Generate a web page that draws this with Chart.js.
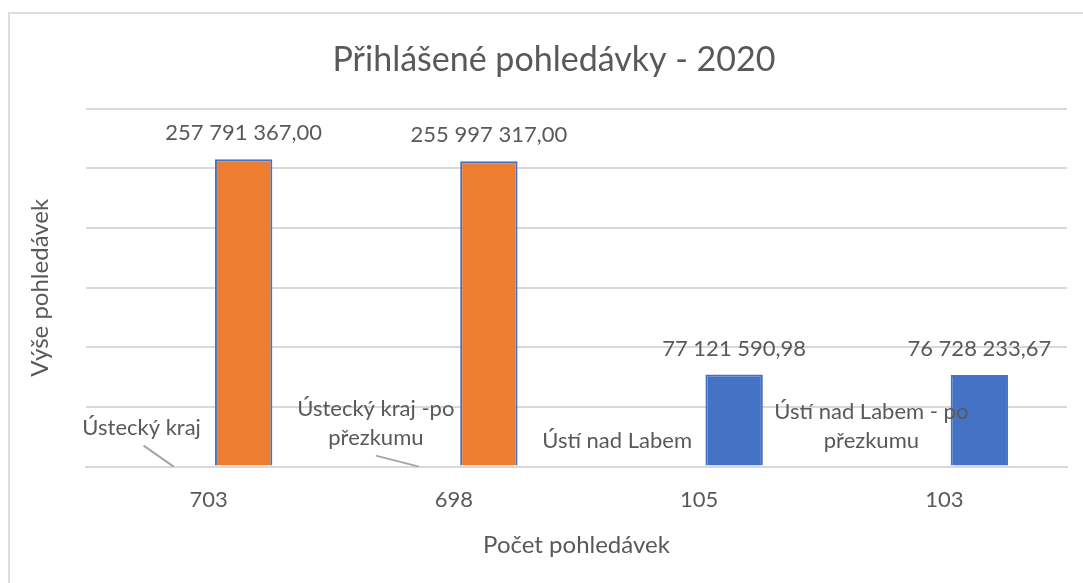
<!DOCTYPE html>
<html lang="cs">
<head>
<meta charset="utf-8">
<title>Přihlášené pohledávky - 2020</title>
<script src="https://cdn.jsdelivr.net/npm/chart.js@4/dist/chart.umd.min.js"></script>
<style>
    html, body {
        margin: 0;
        padding: 0;
        background: #ffffff;
        overflow: hidden;
    }

    /* the original chart is a bit wider than the visible window */
    .chart-wrap {
        position: relative;
        width: 1083px;
        height: 583px;
        overflow: hidden;
    }

    .chart-frame {
        position: absolute;
        left: 8px;
        top: 12px;
        width: 1200px;
        height: 700px;
        border: 2px solid #dedede;
        box-sizing: border-box;
    }

    #claims-chart {
        position: absolute;
        left: 0;
        top: 0;
    }
</style>
</head>
<body>
<div class="chart-wrap">
    <div class="chart-frame"></div>
    <canvas id="claims-chart" width="1100" height="583"></canvas>
</div>

<script>
'use strict';

// chart data

const claimCounts = ['703', '698', '105', '103']
const countValues = [703, 698, 105, 103]
const claimAmounts = [257791367.00, 255997317.00, 77121590.98, 76728233.67]
const regionNames = [
    ['Ústecký kraj'],
    ['Ústecký kraj -po', 'přezkumu'],
    ['Ústí nad Labem'],
    ['Ústí nad Labem - po', 'přezkumu']
]
const barColors = ['#ED7D31', '#ED7D31', '#4472C4', '#4472C4']

const chartTitle = 'Přihlášené pohledávky - 2020'
const xAxisTitle = 'Počet pohledávek'
const yAxisTitle = 'Výše pohledávek'

const textColor = '#595959'
const gridColor = '#d9d9d9'
const fontFamily = 'Lato, "Open Sans", sans-serif'

// where the region names sit, relative to the (invisible) count bar

const nameLabelLayout = [
    { dx: -32, dy: -39, leader: [-30, -21] },
    { dx: -43, dy: -29, leader: [-43, -11] },
    { dx: -47, dy: -26 },
    { dx: -38, dy: -26 }
]

// 257791367 -> "257 791 367,00"

function formatAmount(value) {
    const [whole, decimals] = value.toFixed(2).split('.')
    const grouped = whole.replace(/\B(?=(\d{3})+(?!\d))/g, ' ')
    return `${grouped},${decimals}`
}

// draws the amount labels and the region name labels

const barLabelsPlugin = {
    id: 'barLabels',
    afterDatasetsDraw(chart) {
        const ctx = chart.ctx
        const countBars = chart.getDatasetMeta(0).data
        const amountBars = chart.getDatasetMeta(1).data
        const baseY = chart.scales.y.getPixelForValue(0)

        ctx.save()
        ctx.fillStyle = textColor
        ctx.textAlign = 'center'
        ctx.textBaseline = 'middle'

        ctx.font = `22px ${fontFamily}`
        amountBars.forEach((bar, i) => {
            ctx.fillText(formatAmount(claimAmounts[i]), bar.x, bar.y - 26)
        })

        countBars.forEach((bar, i) => {
            const layout = nameLabelLayout[i]
            const lines = regionNames[i]

            lines.forEach((line, j) => {
                const y = baseY + layout.dy - (lines.length - 1 - j) * 29
                ctx.fillText(line, bar.x + layout.dx, y)
            })

            // leader line from the label down to its bar

            if (layout.leader) {
                ctx.strokeStyle = '#a6a6a6'
                ctx.lineWidth = 2
                ctx.beginPath()
                ctx.moveTo(bar.x + layout.leader[0], baseY + layout.leader[1])
                ctx.lineTo(bar.x, baseY)
                ctx.stroke()
            }
        })

        ctx.restore()
    }
}

const claimsChart = new Chart(document.getElementById('claims-chart'), {
    type: 'bar',
    data: {
        labels: claimCounts,
        datasets: [
            {
                // counts are tiny next to the amounts, so these bars stay invisible
                label: 'Počet pohledávek',
                data: countValues,
                backgroundColor: 'rgba(68, 114, 196, 0)',
                borderWidth: 0
            },
            {
                label: 'Výše pohledávek',
                data: claimAmounts,
                backgroundColor: barColors,
                borderColor: '#4472C4',
                borderWidth: 2
            }
        ]
    },
    options: {
        responsive: false,
        animation: false,
        devicePixelRatio: 1,
        categoryPercentage: 0.571,
        barPercentage: 0.82,
        layout: {
            padding: { top: 0, left: 8, right: 0, bottom: 0 }
        },
        plugins: {
            legend: { display: false },
            tooltip: { enabled: false },
            title: {
                display: true,
                text: chartTitle,
                color: textColor,
                font: { family: fontFamily, size: 34, weight: 'normal' },
                padding: { top: 40, bottom: 28 }
            }
        },
        scales: {
            x: {
                grid: { display: false, drawTicks: false },
                border: { display: true, color: gridColor, width: 2 },
                ticks: {
                    padding: 20,
                    color: textColor,
                    font: { family: fontFamily, size: 22 }
                },
                title: {
                    display: true,
                    text: xAxisTitle,
                    color: textColor,
                    font: { family: fontFamily, size: 24, lineHeight: 1 },
                    padding: { top: 0, bottom: 26 }
                }
            },
            y: {
                min: 0,
                max: 300000000,
                ticks: { display: false, stepSize: 50000000 },
                grid: { color: gridColor, lineWidth: 2, drawTicks: false },
                border: { display: false },
                title: {
                    display: true,
                    text: yAxisTitle,
                    color: textColor,
                    font: { family: fontFamily, size: 24, lineHeight: 1 },
                    padding: { top: 20, bottom: 34 }
                }
            },
            // empty right axis, only keeps the plot area off the right edge
            yRight: {
                type: 'linear',
                position: 'right',
                grid: { display: false, drawTicks: false },
                border: { display: false },
                ticks: { display: false },
                afterFit(scale) {
                    scale.width = 33
                }
            }
        }
    },
    plugins: [barLabelsPlugin]
})
</script>
</body>
</html>
